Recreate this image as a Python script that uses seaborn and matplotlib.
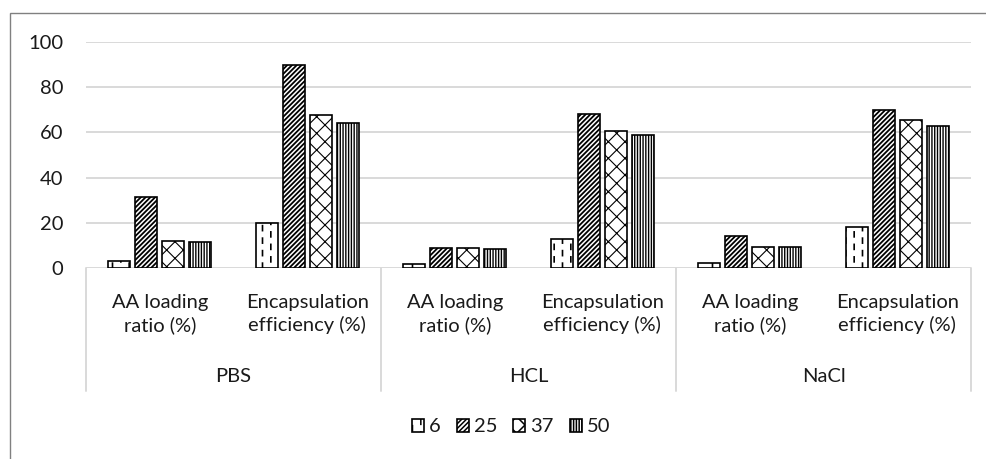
import warnings

import numpy as np
import pandas as pd
import matplotlib
matplotlib.use("Agg")
import matplotlib.pyplot as plt
import matplotlib.hatch as mhatch
import matplotlib.transforms as mtransforms
from matplotlib.lines import Line2D
from matplotlib.patches import Rectangle
from matplotlib.path import Path
import seaborn as sns

warnings.filterwarnings("ignore", message=".*hatch must consist.*")

# ---- data -------------------------------------------------------------
groups = ["PBS", "HCL", "NaCl"]
metrics = ["AA loading\nratio (%)", "Encapsulation\nefficiency (%)"]
temps = ["6", "25", "37", "50"]

# values in category order: PBS AA, PBS EE, HCL AA, HCL EE, NaCl AA, NaCl EE
t6 = [3.1, 19.8, 1.6, 12.8, 2.4, 18.1]
t25 = [31.5, 89.8, 9.0, 68.1, 14.3, 69.9]
t37 = [12.1, 67.7, 9.0, 60.6, 9.4, 65.5]
t50 = [11.5, 64.3, 8.4, 58.8, 9.1, 62.8]

y_ticks = [0, 20, 40, 60, 80, 100]


# ---- a staggered dashed-vertical hatch, selected with ':' ---------------
class DashedVerticalHatch(mhatch.HatchPatternBase):
    def __init__(self, hatch, density):
        self.num_cols = int(hatch.count(":") * density * 2)
        self.num_dashes = 8
        self.num_vertices = self.num_cols * self.num_dashes * 2

    def set_vertices_and_codes(self, vertices, codes):
        m = self.num_dashes
        k = 0
        for i in range(self.num_cols):
            x = (i + 0.5) / self.num_cols
            shift = 0.5 * (i % 2)
            for j in range(m):
                y0 = (j + 0.05 + shift) / m
                y1 = y0 + 0.4 / m
                vertices[k] = (x, y0)
                vertices[k + 1] = (x, y1)
                codes[k] = Path.MOVETO
                codes[k + 1] = Path.LINETO
                k += 2


mhatch._hatch_types.append(DashedVerticalHatch)

hatches = [":", "///////", "xx", "||||||"]
hatch_widths = [1.2, 1.3, 0.8, 1.0]

# ---- long-form table ----------------------------------------------------
cats = [f"{g}|{m}" for g in groups for m in metrics]
series = {"6": t6, "25": t25, "37": t37, "50": t50}
rows = []
for t in temps:
    for c, v in zip(cats, series[t]):
        rows.append({"cat": c, "temp": t, "value": v})
df = pd.DataFrame(rows)

# ---- style --------------------------------------------------------------
sns.set_theme(style="white")
plt.rcParams["font.family"] = ["Lato", "DejaVu Sans"]
plt.rcParams["hatch.linewidth"] = 1.1
text_color = "#1a1a1a"
grid_color = "#d9d9d9"
fs = 14.5

W, H = 986, 459
fig = plt.figure(figsize=(W / 100, H / 100), dpi=100)
ax = fig.add_axes([86 / W, 1 - 268 / H, (971 - 86) / W, (268 - 42) / H])

sns.barplot(
    data=df, x="cat", y="value", hue="temp", order=cats, hue_order=temps,
    palette=["white"] * 4, edgecolor="black", linewidth=1.2,
    width=0.732, gap=0.186, saturation=1, ax=ax, legend=False, zorder=3,
)

for cont, h, hw in zip(ax.containers, hatches, hatch_widths):
    for p in cont.patches:
        p.set_hatch(h)
        if hasattr(p, "set_hatch_linewidth"):
            p.set_hatch_linewidth(hw)

ax.set_xlim(-0.5, len(cats) - 0.5)
ax.set_ylim(0, 100)
ax.set_yticks(y_ticks)
ax.set_yticklabels([str(v) for v in y_ticks], fontsize=fs, color=text_color)
ax.tick_params(axis="y", length=0, pad=16.5)
ax.set_xticks([])
ax.set_xlabel("")
ax.set_ylabel("")
ax.yaxis.grid(True, color=grid_color, linewidth=1.4, zorder=0)
ax.set_axisbelow(True)
for s in ax.spines.values():
    s.set_visible(False)

# ---- two-level category axis --------------------------------------------
bt = mtransforms.blended_transform_factory(ax.transData, fig.transFigure)
for i, c in enumerate(cats):
    m = c.split("|")[1]
    ax.text(i, 1 - 314 / H, m, transform=bt, ha="center", va="center",
            fontsize=fs, color=text_color, linespacing=1.35)
for gi, g in enumerate(groups):
    ax.text(2 * gi + 0.5, 1 - 377 / H, g, transform=bt, ha="center",
            va="center", fontsize=fs, color=text_color)
for xb in np.arange(-0.5, len(cats), 2):
    ax.add_line(Line2D([xb, xb], [1 - 268 / H, 1 - 391 / H], transform=bt,
                       color=grid_color, linewidth=1.4, clip_on=False))

# ---- legend -------------------------------------------------------------
handles = [cont.patches[0] for cont in ax.containers]
fig.legend(handles, temps, loc="center", bbox_to_anchor=(511 / W, 1 - 427 / H),
           ncol=4, frameon=False, fontsize=fs, handlelength=0.6,
           handleheight=0.6, handletextpad=0.25, columnspacing=0.8,
           labelcolor=text_color)

# ---- chart frame --------------------------------------------------------
fig.add_artist(Rectangle((10 / W, -0.2), 1.5, 1 - 13 / H + 0.2,
                         transform=fig.transFigure, fill=False,
                         edgecolor="#808080", linewidth=1.0))

fig.savefig("out.png", dpi=100)
